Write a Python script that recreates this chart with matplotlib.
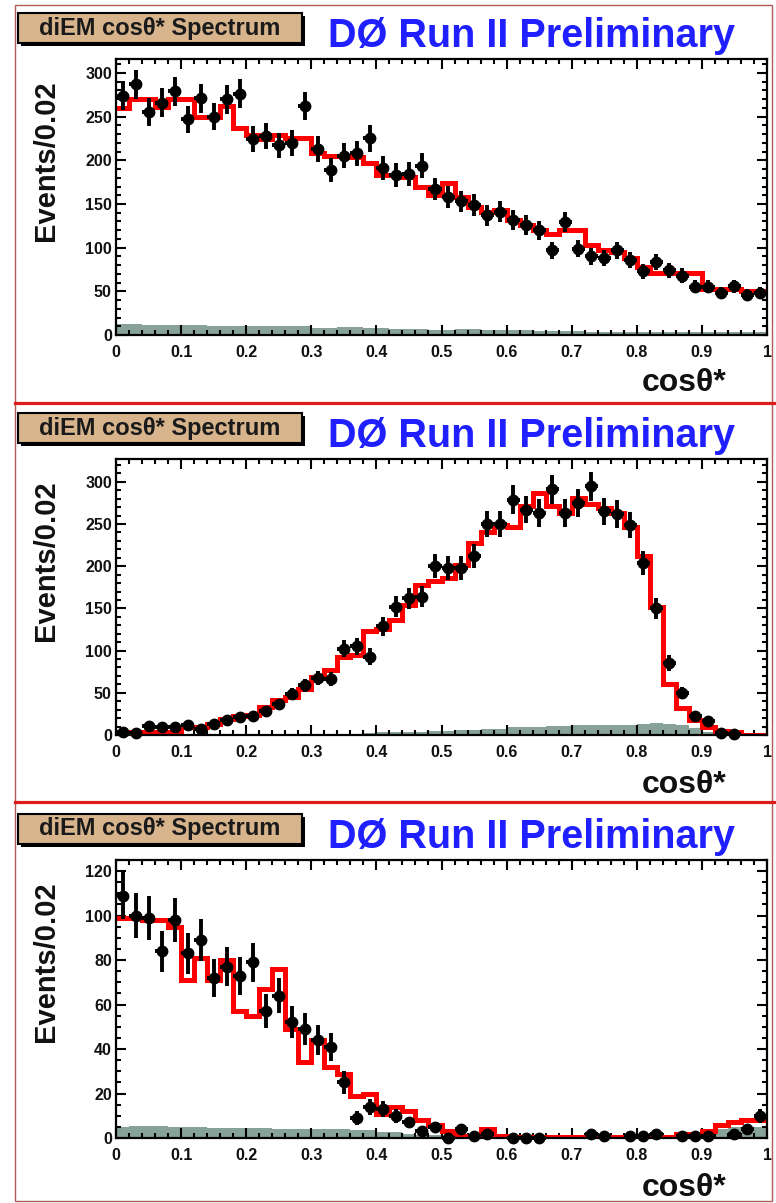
import numpy as np
import matplotlib
matplotlib.use("Agg")
import matplotlib.pyplot as plt
from matplotlib.patches import Rectangle
from matplotlib.lines import Line2D
from matplotlib.ticker import MultipleLocator, FuncFormatter

nan = np.nan

# ---------------- data (50 bins of width 0.02 in cos theta*) ----------------
bin_edges = np.linspace(0.0, 1.0, 51)

data1 = [274, 287, 255, 266, 279, 247, 271, 250, 270, 276,
         224, 228, 217, 220, 262, 213, 189, 205, 208, 225,
         191, 183, 184, 194, 167, 158, 153, 149, 137, 141,
         132, 126, 120, 97, 129, 99, 90, 88, 97, 86,
         73, 84, 74, 68, 55, 55, 48, 56, 46, 48]
sig1 = [260, 270, 270, 261, 270, 270, 250, 250, 262, 237,
        229, 224, 229, 226, 225, 208, 205, 205, 204, 197,
        183, 183, 181, 170, 160, 174, 158, 147, 141, 143,
        132, 126, 120, 116, 120, 120, 103, 97, 95, 88,
        78, 71, 71, 71, 71, 53, 53, 53, 50, 50]
bkg1 = [13, 13, 12, 12, 11, 11, 11, 10, 10, 10,
        10, 10, 10, 10, 10, 8, 8, 9, 9, 8,
        8, 7, 7, 7, 6, 6, 7, 7, 6, 6,
        6, 6, 5, 5, 5, 5, 4, 4, 4, 4,
        4, 4, 4, 4, 4, 4, 3, 3, 3, 3]

data2 = [3, 2, 11, 9, 10, 12, 7, 13, 18, 21,
         23, 28, 37, 49, 59, 68, 66, 102, 105, 93,
         129, 152, 162, 164, 200, 198, 198, 212, 250, 250,
         279, 267, 263, 291, 263, 275, 295, 265, 262, 249,
         204, 150, 85, 50, 22, 16, 2, 1, nan, nan]
sig2 = [3, 2, 4, 4, 4, 9, 9, 13, 19, 22,
        24, 33, 42, 45, 55, 69, 77, 93, 95, 123,
        125, 136, 154, 178, 182, 186, 202, 227, 241, 249,
        246, 271, 287, 271, 263, 281, 274, 269, 263, 247,
        212, 152, 61, 32, 18, 10, 5, 3, 0.5, 0]
bkg2 = [0, 0, 0, 0, 0, 0, 0, 0, 0, 0.5,
        0.5, 0.5, 0.5, 0.5, 1, 1, 1, 1.5, 1.5, 2,
        3, 3, 4, 4, 5, 5, 6, 6, 7, 7,
        9, 10, 10, 11, 11, 12, 12, 12, 12, 12,
        13, 14, 13, 12, 8, 3, 0, 0, 0, 0]

data3 = [109, 100, 99, 84, 98, 83, 89, 72, 77, 73,
         79, 57, 64, 52, 49, 44, 41, 25, 9, 14,
         13, 10, 7, 3, 5, 0, 4, 1, 2, nan,
         0, 0, 0, nan, nan, nan, 2, 1, nan, 1,
         1, 2, nan, 1, 1, 1, nan, 2, 4, 10]
sig3 = [99, 99, 98, 98, 95, 71, 81, 71, 80, 57,
        55, 67, 76, 49, 34, 44, 32, 29, 19, 20,
        11, 14, 12, 8, 6, 3, 1, 1, 4, 1,
        0.5, 0.5, 0.5, 0.5, 0.5, 0.5, 0.5, 0.5, 0.5, 0.5,
        0.5, 0.5, 0.5, 2, 2, 3, 6, 7, 8, 8]
bkg3 = [5, 5.5, 5.5, 5.5, 5, 5, 5, 4.5, 4.5, 4.5,
        4.5, 4.5, 4, 4, 4, 4, 4, 4, 3.5, 3.5,
        2.5, 2.5, 2, 1.5, 1.5, 1, 1, 1, 0.5, 0.5,
        0.5, 0.5, 0.5, 0.5, 0.5, 0.5, 0.5, 0.5, 0.5, 0.5,
        0.5, 0.5, 1, 1, 1, 1.5, 4, 5, 5, 5]

ymax_list = [316, 327, 125]
ymajor_list = [50, 50, 20]
yminor_list = [10, 10, 5]

tag_text = "diEM cos\u03b8* Spectrum"
title_text = "D\u00d8 Run II Preliminary"
ylabel_text = "Events/0.02"
xlabel_text = "cos\u03b8*"

# ---------------- figure ----------------
W, H = 776, 1203
plt.rcParams['font.family'] = ['Liberation Sans', 'DejaVu Sans']
fig = plt.figure(figsize=(W / 100, H / 100), dpi=100)
fig.patch.set_facecolor('white')


def fx(x):
    return x / W


def fy(y):
    return 1 - y / H


centers = 0.5 * (bin_edges[:-1] + bin_edges[1:])
panels = [(data1, sig1, bkg1), (data2, sig2, bkg2), (data3, sig3, bkg3)]
offsets = [0, 400, 801]
ax_top = [59, 459, 860]
ax_bot = [335, 735, 1138]
xlab_base = [391, 793, 1196]

for i, (dat, sig, bkg) in enumerate(panels):
    o = offsets[i]
    ax = fig.add_axes([fx(116), fy(ax_bot[i]), fx(651), (ax_bot[i] - ax_top[i]) / H])
    ax.stairs(bkg, bin_edges, fill=True, color='#87a299', lw=0, zorder=1)
    ax.stairs(sig, bin_edges, color='#ff0000', lw=3.6, baseline=None, zorder=2)
    d = np.array(dat, dtype=float)
    ax.errorbar(centers, d, yerr=np.sqrt(d), xerr=0.01, fmt='o', color='black',
                ms=7.5, elinewidth=2.8, capsize=0, zorder=3, clip_on=False)
    ax.set_xlim(0, 1)
    ax.set_ylim(0, ymax_list[i])
    ax.xaxis.set_major_locator(MultipleLocator(0.1))
    ax.xaxis.set_minor_locator(MultipleLocator(0.02))
    ax.yaxis.set_major_locator(MultipleLocator(ymajor_list[i]))
    ax.yaxis.set_minor_locator(MultipleLocator(yminor_list[i]))
    ax.xaxis.set_major_formatter(FuncFormatter(lambda v, p: f"{v:g}"))
    ax.yaxis.set_major_formatter(FuncFormatter(lambda v, p: f"{v:g}"))
    ax.tick_params(which='both', direction='in', top=True, right=True, width=1.5,
                   labelsize=11.5)
    ax.tick_params(which='major', length=7)
    ax.tick_params(which='minor', length=3.5)
    ax.tick_params(axis='x', which='major', pad=7)
    ax.tick_params(axis='y', which='major', pad=3)
    for lab in ax.get_xticklabels() + ax.get_yticklabels():
        lab.set_fontweight('bold')
        lab.set_color('#111111')
    for s in ax.spines.values():
        s.set_linewidth(1.6)

    # tag box with shadow
    bx, by, bw, bh = 18, 13 + o, 284, 30
    fig.add_artist(Rectangle((fx(bx + 3), fy(by + bh + 3)), bw / W, bh / H,
                             transform=fig.transFigure, facecolor='black',
                             edgecolor='none', zorder=5))
    fig.add_artist(Rectangle((fx(bx), fy(by + bh)), bw / W, bh / H,
                             transform=fig.transFigure, facecolor='#d7b48c',
                             edgecolor='black', lw=1.5, zorder=6))
    fig.text(fx(bx + bw / 2), fy(by + bh / 2), tag_text, ha='center', va='center',
             fontsize=17, fontweight='bold', color='#1a1a1a', zorder=7)
    # title
    fig.text(fx(531), fy(47 + o), title_text, ha='center', va='baseline',
             fontsize=28.5, fontweight='bold', color='#1f1fff')
    # y label
    fig.text(fx(46), fy(80 + o), ylabel_text, rotation=90, ha='center', va='top',
             fontsize=21, fontweight='bold', color='#111111')
    # x label
    fig.text(fx(684), fy(xlab_base[i]), xlabel_text, ha='center', va='baseline',
             fontsize=23, fontweight='bold', color='#111111')

# outer frame and separators
fig.add_artist(Rectangle((fx(15), fy(1201)), (772 - 15) / W, (1201 - 5) / H,
                         transform=fig.transFigure, fill=False,
                         edgecolor='#b05a5a', lw=1))
for ysep in (403, 802):
    fig.add_artist(Line2D([fx(15), 1], [fy(ysep), fy(ysep)],
                          transform=fig.transFigure, color='#dd1c1c', lw=2.3))

fig.savefig("out.png", dpi=100)
